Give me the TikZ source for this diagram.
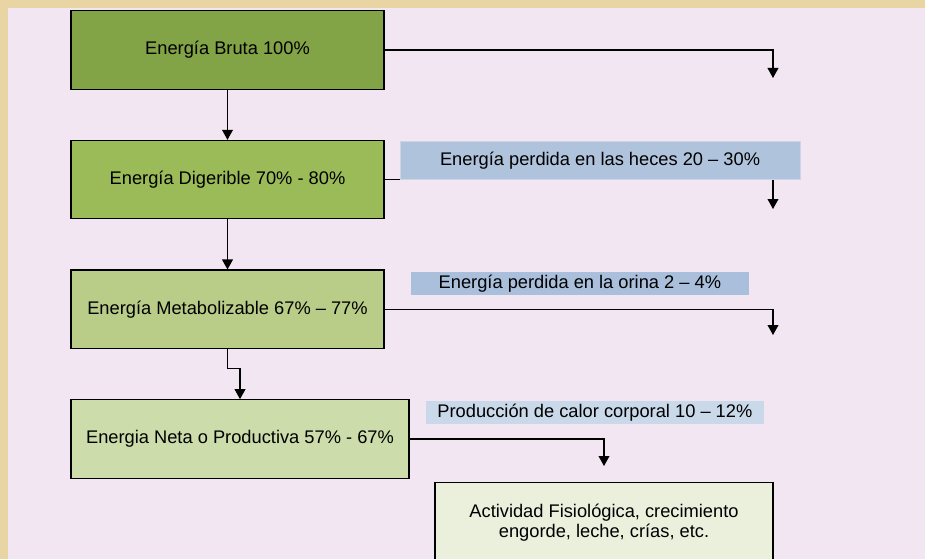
\documentclass[tikz,border=0pt]{standalone}
\usepackage{fontspec}
\setmainfont{Liberation Sans}
\usepackage{tikz}
\usetikzlibrary{
  positioning, arrows.meta, calc
}
\definecolor{cParch}{HTML}{E9D4A4}
\definecolor{cPanel}{HTML}{F1E6F1}
\definecolor{cBruta}{HTML}{82A346}
\definecolor{cDig}{HTML}{9BBB59}
\definecolor{cMet}{HTML}{B9CD88}
\definecolor{cNeta}{HTML}{CCDCAA}
\definecolor{cAct}{HTML}{EBF0DD}
\definecolor{cHeces}{HTML}{B0C3DC}
\definecolor{cHecesBd}{HTML}{CBD5E6}
\definecolor{cOrina}{HTML}{AABFDB}
\definecolor{cCalor}{HTML}{C9D9EA}
\tikzset{
  block/.style={
    rectangle, draw=black, line width=0.9pt, minimum width=7.825cm, minimum height=1.96cm,
    font=\fontsize{13}{14.4}\selectfont, align=center, inner sep=2pt
  },
  lossbar/.style={
    rectangle, fill=#1, minimum width=8.45cm, minimum height=0.575cm,
    inner sep=0pt, font=\fontsize{13}{14.4}\selectfont
  },
  arrow/.style={-{Triangle[length=2.5mm, width=2.7mm]}, line width=0.8pt, color=black},
}

\begin{document}
\begin{tikzpicture}

  \useasboundingbox (0,0) rectangle (23.125,-13.975);
  \fill[cParch] (0,0) rectangle (23.125,-13.975);
  \fill[cPanel] (0.2,-0.2) rectangle (23.125,-13.975);

  \node[block, fill=cBruta] (bruta) at (5.6875,-1.25) {Energía Bruta 100\%};

  \node[block, fill=cDig, below=1.25cm of bruta] (digerible)
    {Energía Digerible 70\% - 80\%};

  \node[block, fill=cMet, below=1.25cm of digerible] (metab)
    {Energía Metabolizable 67\% – 77\%};

  \node[block, fill=cNeta, minimum width=8.45cm, below right=1.25cm and 0cm of metab.south west] (neta)
    {Energia Neta o Productiva 57\% - 67\%};

  % free ends of the losses
  \coordinate (outB) at (19.325,-1.95);
  \coordinate (outD) at (19.325,-5.225);
  \coordinate (outM) at (19.325,-8.375);
  \coordinate (outN) at (15.1,-11.65);

  \draw[arrow] (bruta)     -- (digerible);
  \draw[arrow] (digerible) -- (metab);
  \draw[arrow] (metab.south) -- ++(0,-0.475) -| (neta.north);

  \draw[arrow] (bruta.east)     -| (outB);
  \draw[arrow] (digerible.east) -| (outD);
  \draw[arrow] (metab.east)     -| (outM);
  \draw[arrow] (neta.east)      -| (outN);

  \node[lossbar=cHeces, draw=cHecesBd, line width=0.6pt, minimum width=10cm, minimum height=0.95cm,
        above right=0cm and 0.375cm of digerible.east] (heces)
    {Energía perdida en las heces 20 – 30\%};

  \node[lossbar=cOrina, above right=0.34cm and 0.65cm of metab.east] (orina)
    {Energía perdida en la orina 2 – 4\%};

  \node[lossbar=cCalor, above right=0.36cm and 0.4cm of neta.east] (calor)
    {Producción de calor corporal 10 – 12\%};

  \node[block, fill=cAct, minimum width=8.45cm, minimum height=2cm, below=0.4cm of outN] (actividad)
    {Actividad Fisiológica, crecimiento\\engorde, leche, crías, etc.};

\end{tikzpicture}
\end{document}
